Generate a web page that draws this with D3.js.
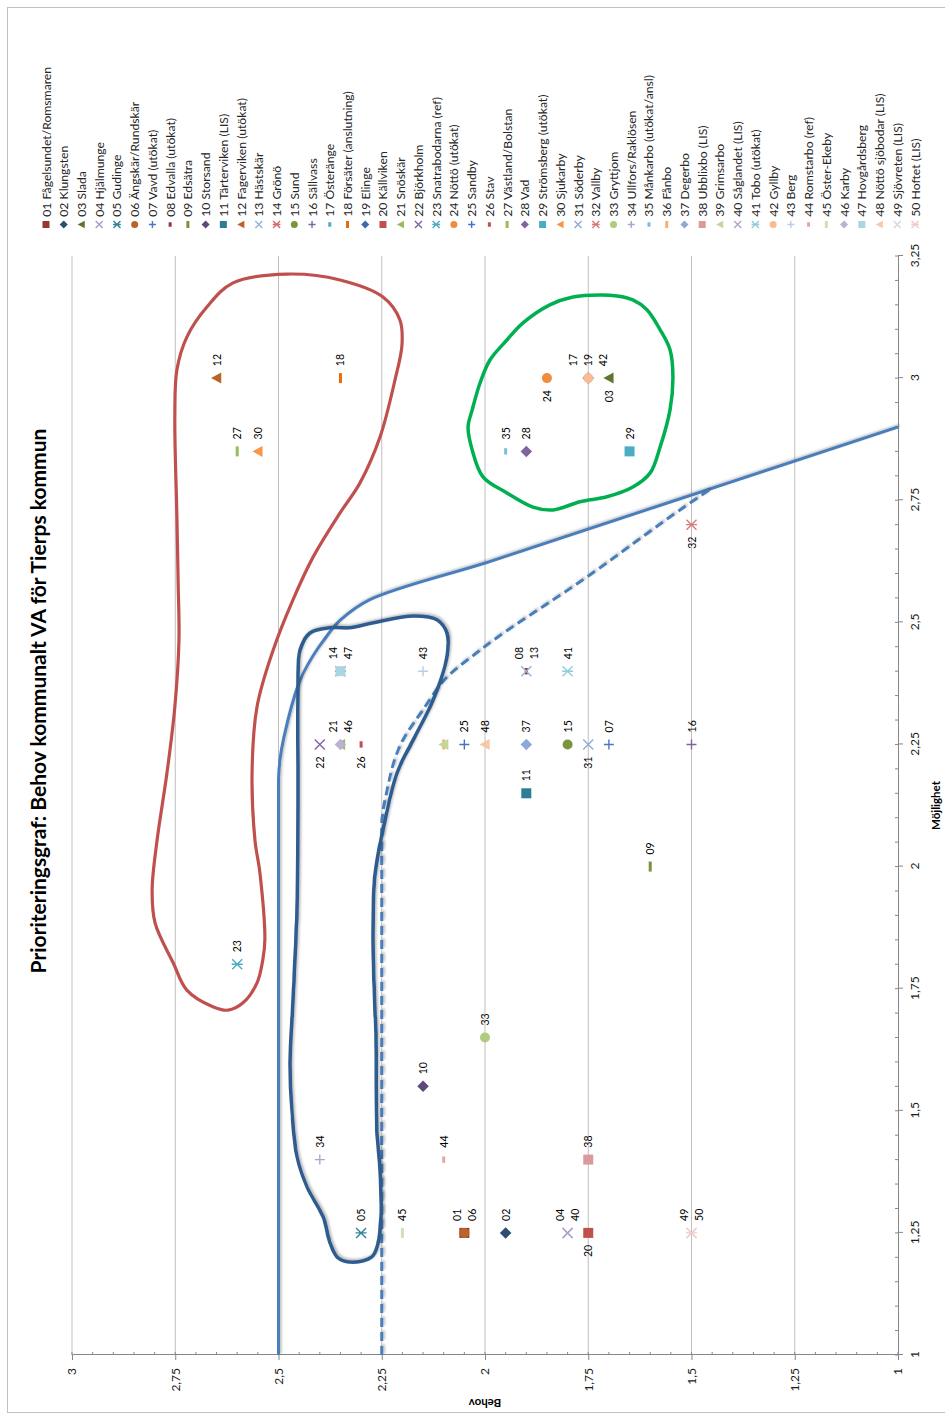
<!DOCTYPE html>
<html><head><meta charset="utf-8">
<script src="https://cdn.jsdelivr.net/npm/d3@7/dist/d3.min.js"></script>
<style>
html,body{margin:0;padding:0;background:#fff;}
svg{display:block;font-family:Lato,"Open Sans",sans-serif;}
</style></head><body>
<svg id="chart" width="945" height="1420"></svg>
<script>
// ---------------- DATA ----------------
const ids = ["01","02","03","04","05","06","07","08","09","10","11","12","13","14","15","16","17","18","19","20","21","22","23","24","25","26","27","28","29","30","31","32","33","34","35","36","37","38","39","40","41","42","43","44","45","46","47","48","49","50"];
const names = ["Fågelsundet/Romsmaren","Klungsten","Slada","Hjälmunge","Gudinge","Ängskär/Rundskär","Vavd (utökat)","Edvalla (utökat)","Edsätra","Storsand","Tärterviken (LIS)","Fagerviken (utökat)","Hästskär","Grönö","Sund","Sällvass","Österänge","Försäter (anslutning)","Elinge","Källviken","Snöskär","Björkholm","Snatrabodarna (ref)","Nöttö (utökat)","Sandby","Stav","Västland/Bolstan","Vad","Strömsberg (utökat)","Sjukarby","Söderby","Vallby","Gryttjom","Ullfors/Raklösen","Månkarbo (utökat/ansl)","Fånbo","Degerbo","Ubblixbo (LIS)","Grimsarbo","Såglandet (LIS)","Tobo (utökat)","Gyllby","Berg","Romstarbo (ref)","Öster-Ekeby","Karby","Hovgårdsberg","Nöttö sjöbodar (LIS)","Sjövreten (LIS)","Hoftet (LIS)"];
const mojlighet = [1.25,1.25,3.00,1.25,1.25,1.25,2.25,2.40,2.00,1.55,2.15,3.00,2.40,2.40,2.25,2.25,3.00,3.00,3.00,1.25,2.25,2.25,1.80,3.00,2.25,2.25,2.85,2.85,2.85,2.85,2.25,2.70,1.65,1.40,2.85,2.25,2.25,1.40,2.25,1.25,2.40,3.00,2.40,1.40,1.25,2.25,2.40,2.25,1.25,1.25];
const behov = [2.05,1.95,1.70,1.80,2.30,2.05,1.70,1.90,1.60,2.15,1.90,2.65,1.90,2.35,1.80,1.50,1.75,2.35,1.75,1.75,2.35,2.40,2.60,1.85,2.05,2.30,2.60,1.90,1.65,2.55,1.75,1.50,2.00,2.40,1.95,2.10,1.90,1.75,2.10,1.80,1.80,1.75,2.15,2.10,2.20,2.35,2.35,2.00,1.50,1.50];
const labelSide = ["r","r","l","r","r","r","r","r","r","r","r","r","r","r","r","r","r","r","r","l","r","l","r","l","r","l","r","r","r","r","l","l","r","r","r","n","r","r","n","r","r","r","r","r","r","r","r","r","r","r"];
const shapes = ["square","diamond","triangle","x","star","circle","plus","dash","ldash",
 "diamond","square","triangle","x","star","circle","plus","dash","ldash",
 "diamond","square","triangle","x","star","circle","plus","dash","ldash",
 "diamond","square","triangle","x","star","circle","plus","dash","ldash",
 "diamond","square","triangle","x","star","circle","plus","dash","ldash",
 "diamond","square","triangle","x","star"];
const colors = ["#953735","#2C4D75","#5F7530","#A99BC9","#31859C","#B9652A","#4A78C0","#953735","#77933C","#5F497A",
 "#2E7D96","#B9652A","#95B3D7","#D46A6A","#77963F","#8064A2","#4BACC6","#E46C0A","#3B6BAF","#C0504D",
 "#9BBB59","#8064A2","#4BACC6","#F08C3C","#3F74C3","#C0504D","#9BBB59","#8064A2","#4BACC6","#F79646",
 "#8EA9D8","#DA7B7A","#AFCB7E","#B3A2C7","#7BC0D7","#F9AE73","#8FA8D6","#D99A99","#C3D69B","#B3A2C7",
 "#93CDDD","#F8BB94","#B9CDE5","#E2A8A7","#CFE0B3","#BDB1D3","#A9D6E3","#F9C6A6","#DAD3E7","#F1CBCA"];

const mojTicks = [1,1.25,1.5,1.75,2,2.25,2.5,2.75,3,3.25];
const mojTickLabels = ["1","1,25","1,5","1,75","2","2,25","2,5","2,75","3","3,25"];
const behovTicks = [1,1.25,1.5,1.75,2,2.25,2.5,2.75,3];
const behovTickLabels = ["1","1,25","1,5","1,75","2","2,25","2,5","2,75","3"];

// boundary lines [Möjlighet, Behov]
const solidLine = [[1,2.5],[2.177,2.5],[2.294,2.479],[2.396,2.44],[2.464,2.39],[2.505,2.35],[2.546,2.28],[2.624,1.99],[2.9,1.0]];
const dashedLine = [[1,2.25],[2.08,2.25],[2.157,2.237],[2.259,2.199],[2.321,2.15],[2.388,2.092],[2.443,2.012],[2.593,1.753],[2.747,1.499],[2.775,1.45]];
const redArea = [[3.213,2.479],[3.201,2.351],[3.166,2.247],[3.119,2.206],[3.068,2.201],[2.996,2.218],[2.880,2.254],[2.785,2.303],[2.724,2.351],[2.634,2.416],[2.546,2.465],[2.443,2.513],[2.327,2.552],[2.192,2.564],[2.054,2.557],[1.987,2.545],[1.850,2.533],[1.809,2.538],[1.762,2.552],[1.721,2.586],[1.706,2.622],[1.713,2.659],[1.747,2.722],[1.803,2.755],[1.885,2.799],[1.952,2.806],[2.054,2.794],[2.192,2.770],[2.327,2.751],[2.464,2.741],[2.581,2.743],[2.716,2.746],[2.921,2.751],[3.017,2.746],[3.084,2.722],[3.146,2.673],[3.195,2.610]];
const greenArea = [[3.170,1.722],[3.166,1.787],[3.150,1.843],[3.113,1.908],[3.078,1.947],[3.037,1.988],[2.990,2.012],[2.935,2.031],[2.900,2.041],[2.853,2.031],[2.798,2.005],[2.765,1.947],[2.736,1.884],[2.730,1.835],[2.747,1.770],[2.757,1.705],[2.777,1.642],[2.806,1.600],[2.859,1.576],[2.935,1.552],[3.002,1.545],[3.058,1.552],[3.099,1.576],[3.140,1.608],[3.160,1.642],[3.168,1.680]];
const blueArea = [[2.443,2.448],[2.478,2.424],[2.489,2.375],[2.489,2.327],[2.499,2.271],[2.513,2.174],[2.505,2.116],[2.478,2.092],[2.443,2.090],[2.396,2.102],[2.327,2.133],[2.259,2.174],[2.192,2.213],[2.095,2.242],[1.987,2.266],[1.850,2.271],[1.645,2.264],[1.461,2.262],[1.379,2.254],[1.283,2.252],[1.229,2.259],[1.201,2.274],[1.190,2.320],[1.199,2.356],[1.229,2.375],[1.283,2.392],[1.344,2.431],[1.405,2.455],[1.495,2.467],[1.598,2.472],[1.727,2.465],[1.917,2.455],[2.192,2.453],[2.362,2.453]];

// ---------------- DRAW ----------------
const W = 1420; // original (unrotated) chart width
const svg = d3.select('#chart');
const defs = svg.append('defs');
const f = defs.append('filter').attr('id','shadow').attr('x','-10%').attr('y','-10%').attr('width','120%').attr('height','120%');
f.append('feDropShadow').attr('dx',1.5).attr('dy',1.5).attr('stdDeviation',1.3).attr('flood-color','#000').attr('flood-opacity',0.28);

svg.append('rect').attr('x',7.5).attr('y',7.5).attr('width',945).attr('height',1405)
  .attr('fill','none').attr('stroke','#bfbfbf').attr('stroke-width',1);

const g = svg.append('g').attr('transform',`translate(0,${W}) rotate(-90)`);

const x = d3.scaleLinear().domain([1,3.25]).range([65,1164]);
const y = d3.scaleLinear().domain([1,3]).range([898,72]);

// gridlines
g.append('g').selectAll('line').data(behovTicks.filter(d=>d>1)).join('line')
  .attr('x1',x(1)).attr('x2',x(3.25)).attr('y1',d=>y(d)).attr('y2',d=>y(d))
  .attr('stroke','#bfbfbf').attr('stroke-width',1);

// axes
const axX = g.append('g').attr('transform',`translate(0,${y(1)})`)
  .call(d3.axisBottom(x).tickValues(mojTicks).tickFormat((d,i)=>mojTickLabels[i]).tickSize(5).tickSizeOuter(0).tickPadding(7));
const axY = g.append('g').attr('transform',`translate(${x(1)},0)`)
  .call(d3.axisLeft(y).tickValues(behovTicks).tickFormat((d,i)=>behovTickLabels[i]).tickSize(5).tickSizeOuter(0).tickPadding(8));
[axX,axY].forEach(a=>{
  a.selectAll('path,line').attr('stroke','#868686');
  a.selectAll('text').attr('font-size',12).attr('fill','#1a1a1a').attr('font-family','Lato,"Open Sans",sans-serif');
});
// minor inner ticks
const minorX = d3.range(0,46).map(i=>1+i*0.05);
const minorY = d3.range(0,41).map(i=>1+i*0.05);
g.append('g').selectAll('line').data(minorX).join('line')
  .attr('x1',d=>x(d)).attr('x2',d=>x(d)).attr('y1',y(1)).attr('y2',y(1)-3).attr('stroke','#868686');
g.append('g').selectAll('line').data(minorY).join('line')
  .attr('y1',d=>y(d)).attr('y2',d=>y(d)).attr('x1',x(1)).attr('x2',x(1)+3).attr('stroke','#868686');

// axis titles
g.append('text').attr('transform',`translate(17,${(y(1)+y(3))/2}) rotate(-90)`)
  .attr('text-anchor','middle').attr('dominant-baseline','central')
  .attr('font-size',11.5).attr('font-weight','bold').text('Behov');
g.append('text').attr('x',(x(1)+x(3.25))/2).attr('y',935)
  .attr('text-anchor','middle').attr('dominant-baseline','central')
  .attr('font-size',11.5).attr('font-weight','bold').text('Möjlighet');

// title
const title = g.append('text').attr('x',719).attr('y',37)
  .attr('text-anchor','middle').attr('dominant-baseline','central')
  .attr('font-weight','bold').attr('font-size',20).attr('fill','#000')
  .text('Prioriteringsgraf: Behov kommunalt VA för Tierps kommun');
{ const L = title.node().getComputedTextLength(); title.attr('font-size', 20*545/L); }

// boundary lines
const lineOpen = d3.line().x(d=>x(d[0])).y(d=>y(d[1])).curve(d3.curveMonotoneX);
g.append('path').datum(solidLine).attr('d',lineOpen).attr('fill','none')
  .attr('stroke','#4A7EBB').attr('stroke-width',3).attr('filter','url(#shadow)');
g.append('path').datum(dashedLine).attr('d',lineOpen).attr('fill','none')
  .attr('stroke','#4A7EBB').attr('stroke-width',3).attr('stroke-dasharray','9,5').attr('filter','url(#shadow)');

// markers
function drawMarker(sel, shape, color, s){
  const h = s/2;
  switch(shape){
    case 'square': sel.append('rect').attr('x',-h).attr('y',-h).attr('width',s).attr('height',s).attr('fill',color); break;
    case 'diamond': { const k=h*1.15; sel.append('path').attr('d',`M0,${-k}L${k},0L0,${k}L${-k},0Z`).attr('fill',color); break; }
    case 'triangle': { const k=h*1.1; sel.append('path').attr('d',`M0,${-k}L${k},${k*0.85}L${-k},${k*0.85}Z`).attr('fill',color); break; }
    case 'circle': sel.append('circle').attr('r',h).attr('fill',color); break;
    case 'x': sel.append('path').attr('d',`M${-h},${-h}L${h},${h}M${-h},${h}L${h},${-h}`).attr('stroke',color).attr('stroke-width',1.4).attr('fill','none'); break;
    case 'star': sel.append('path').attr('d',`M${-h},${-h}L${h},${h}M${-h},${h}L${h},${-h}M0,${-h*1.1}L0,${h*1.1}`).attr('stroke',color).attr('stroke-width',1.4).attr('fill','none'); break;
    case 'plus': sel.append('path').attr('d',`M${-h},0L${h},0M0,${-h}L0,${h}`).attr('stroke',color).attr('stroke-width',1.4).attr('fill','none'); break;
    case 'dash': sel.append('rect').attr('x',-s*0.32).attr('y',-1.5).attr('width',s*0.64).attr('height',3).attr('fill',color); break;
    case 'ldash': sel.append('rect').attr('x',-h).attr('y',-1.5).attr('width',s).attr('height',3).attr('fill',color); break;
  }
}
const pts = ids.map((id,i)=>({id, i, m:mojlighet[i], b:behov[i], side:labelSide[i], shape:shapes[i], color:colors[i]}));
const mk = g.append('g');
pts.forEach(p=>{
  const s = mk.append('g').attr('transform',`translate(${x(p.m)},${y(p.b)})`);
  drawMarker(s, p.shape, p.color, 10);
});

// data labels (stack labels of coincident points)
const groups = d3.group(pts.filter(p=>p.side!=='n'), p=>p.m+'|'+p.b+'|'+p.side);
const lab = g.append('g').attr('font-size',10.5).attr('fill','#000');
groups.forEach(arr=>{
  arr.forEach((p,k)=>{
    const off = (k-(arr.length-1)/2)*15;
    lab.append('text')
      .attr('x', x(p.m) + (p.side==='r'?12:-12))
      .attr('y', y(p.b) + off)
      .attr('text-anchor', p.side==='r'?'start':'end')
      .attr('dominant-baseline','central')
      .text(p.id);
  });
});

// closed areas
const lineClosed = d3.line().x(d=>x(d[0])).y(d=>y(d[1])).curve(d3.curveCatmullRomClosed.alpha(0.5));
g.append('path').datum(blueArea).attr('d',lineClosed).attr('fill','none')
  .attr('stroke','#2E5B8F').attr('stroke-width',3.5).attr('filter','url(#shadow)');
g.append('path').datum(redArea).attr('d',lineClosed).attr('fill','none')
  .attr('stroke','#C0504D').attr('stroke-width',3.2);
g.append('path').datum(greenArea).attr('d',lineClosed).attr('fill','none')
  .attr('stroke','#00B050').attr('stroke-width',3.5);

// legend
const leg = g.append('g');
const legTexts = [];
pts.forEach((p,i)=>{
  const oy = 46 + i*17.735;
  const s = leg.append('g').attr('transform',`translate(1195.5,${oy})`);
  drawMarker(s, p.shape, p.color, 7);
  const t = leg.append('text').attr('x',1203.3).attr('y',oy)
    .attr('dominant-baseline','central').attr('font-size',12).attr('fill','#262626')
    .text(p.id+' '+names[i]);
  legTexts.push(t);
});
{ const L = legTexts[0].node().getComputedTextLength(); const fs = 12*150/L; legTexts.forEach(t=>t.attr('font-size',fs)); }
</script></body></html>
